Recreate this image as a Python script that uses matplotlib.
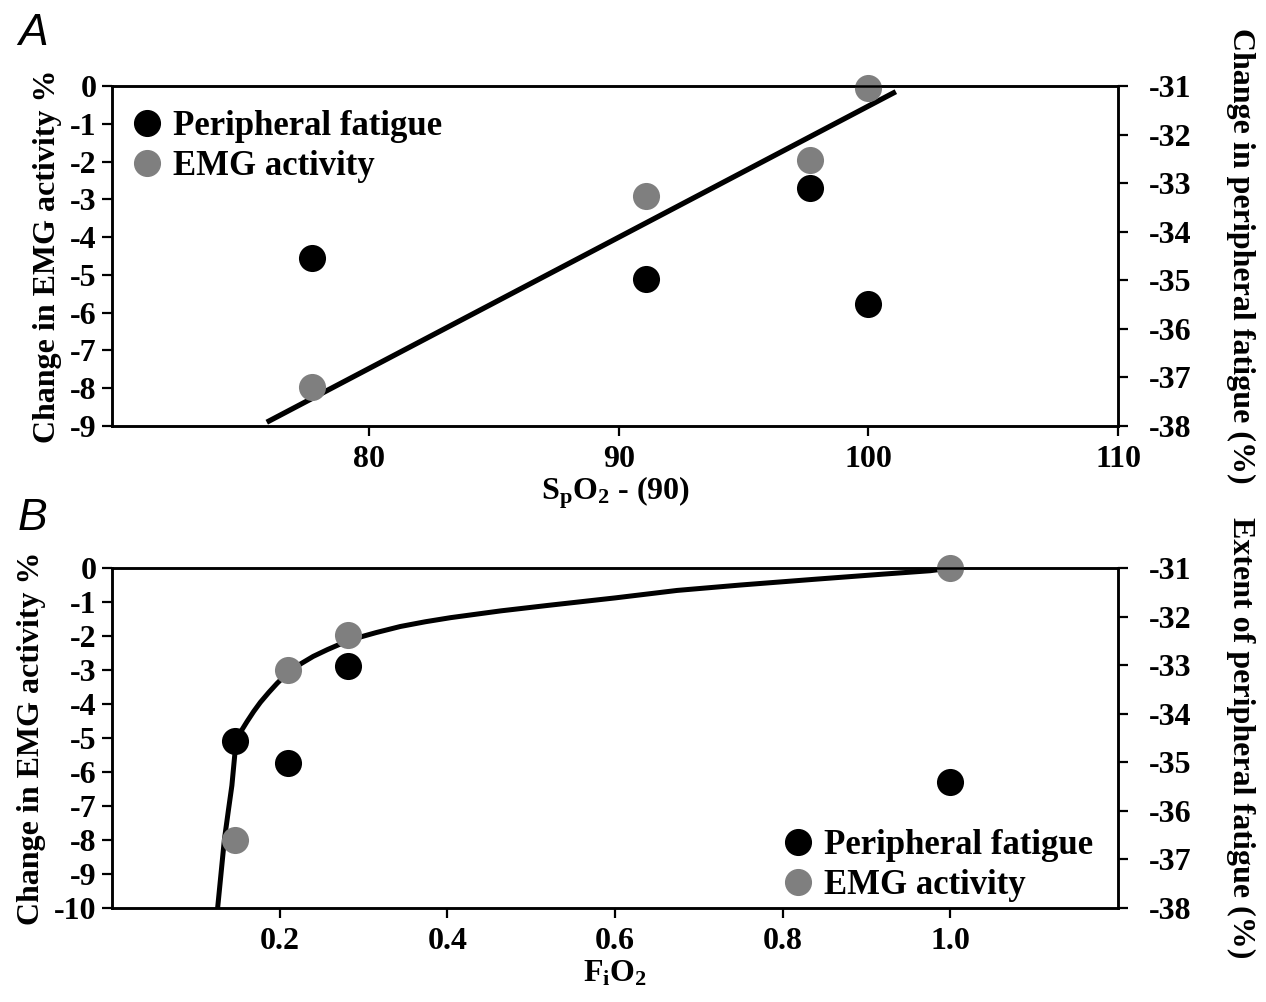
import numpy as np
import matplotlib
matplotlib.use('Agg')
import matplotlib.pyplot as plt
from matplotlib.lines import Line2D

plt.rcParams['font.family'] = 'Liberation Serif'
plt.rcParams['font.weight'] = 'bold'
plt.rcParams['axes.unicode_minus'] = False
plt.rcParams['mathtext.fontset'] = 'custom'
plt.rcParams['mathtext.rm'] = 'Liberation Serif:bold'
plt.rcParams['mathtext.it'] = 'Liberation Serif:bold'
plt.rcParams['mathtext.bf'] = 'Liberation Serif:bold'

# panel A: SpO2
spo2 = [77.7, 91.1, 97.65, 100.0]
fatigue_a = [-34.54, -34.97, -33.10, -35.49]
emg_a = [-7.96, -2.91, -1.96, -0.05]
fit_a_x = [75.9, 101.1]
fit_a_y = [-8.9, -0.15]

# panel B: FiO2
fio2 = [0.147, 0.21, 0.281, 1.0]
fatigue_b = [-34.56, -35.01, -33.02, -35.41]
emg_b = [-8.0, -3.0, -1.97, 0.0]
fit_b_x = [0.126, 0.130, 0.134, 0.139, 0.143, 0.148, 0.154, 0.161, 0.169, 0.177, 0.187,
           0.197, 0.21, 0.225, 0.24, 0.257, 0.272, 0.289, 0.315, 0.344, 0.374, 0.404,
           0.464, 0.52, 0.6, 0.674, 0.75, 0.839, 0.92, 0.976, 0.995]
fit_b_y = [-10.0, -9.0, -8.0, -7.1, -6.4, -5.09, -4.8, -4.52, -4.22, -3.95, -3.66,
           -3.39, -3.08, -2.82, -2.6, -2.4, -2.24, -2.08, -1.9, -1.72, -1.58, -1.46,
           -1.26, -1.1, -0.88, -0.66, -0.5, -0.33, -0.18, -0.08, -0.02]

BLACK = '#000000'
GREY = '#7f7f7f'
MS = 19.5
TICK_FS = 23
LABEL_FS = 23
LEG_FS = 25

W, H = 1266, 1002
fig = plt.figure(figsize=(W / 100, H / 100), dpi=100)


def style_axes(ax, twin):
    for sp in ax.spines.values():
        sp.set_linewidth(1.8)
    for sp in twin.spines.values():
        sp.set_linewidth(1.8)
    ax.tick_params(axis='y', direction='out', length=7, width=1.6, labelsize=TICK_FS, pad=4)
    ax.tick_params(axis='x', direction='out', length=7, width=1.6, labelsize=TICK_FS, pad=7)
    twin.tick_params(direction='out', length=7, width=1.6, labelsize=TICK_FS, pad=15)
    for lab in ax.get_xticklabels() + ax.get_yticklabels() + twin.get_yticklabels():
        lab.set_fontweight('bold')


def legend(ax, loc, anchor):
    handles = [Line2D([], [], marker='o', ls='none', color=BLACK, markersize=MS - 1),
               Line2D([], [], marker='o', ls='none', color=GREY, markersize=MS - 1)]
    ax.legend(handles, ['Peripheral fatigue', 'EMG activity'], loc=loc, bbox_to_anchor=anchor,
              frameon=False, prop={'family': 'Liberation Serif', 'weight': 'bold', 'size': LEG_FS},
              handletextpad=0.25, labelspacing=0.2, handlelength=1.0, borderaxespad=0)


# ---- panel A
axA = fig.add_axes([112 / W, 1 - 426 / H, 1006 / W, 340 / H])
axA.plot(fit_a_x, fit_a_y, color=BLACK, lw=3.8, solid_capstyle='butt', zorder=2)
axA.plot(spo2, emg_a, 'o', color=GREY, markersize=MS, mew=0, zorder=3, clip_on=False)
axA.set_xlim(69.7, 110)
axA.set_ylim(-9, 0)
axA.set_xticks([80, 90, 100, 110])
axA.set_yticks(np.arange(0, -10, -1))
axA.set_ylabel('Change in EMG activity %', fontsize=LABEL_FS, fontweight='bold', labelpad=6)
axA.set_xlabel(r'$\mathrm{S_pO_2}$ - (90)', fontsize=LABEL_FS, fontweight='bold', labelpad=0)
twA = axA.twinx()
twA.plot(spo2, fatigue_a, 'o', color=BLACK, markersize=MS, mew=0, zorder=3)
twA.set_ylim(-38, -31)
twA.set_yticks(np.arange(-31, -39, -1))
twA.set_ylabel('Change in peripheral fatigue (%)', fontsize=LABEL_FS, fontweight='bold',
               rotation=270, labelpad=46)
style_axes(axA, twA)
legend(twA, 'upper left', (0.004, 0.97))
fig.text(18 / W, 1 - 45 / H, 'A', fontsize=32, style='italic', family='Liberation Sans',
         fontweight='normal')

# ---- panel B
axB = fig.add_axes([112 / W, 1 - 908 / H, 1006 / W, 340 / H])
axB.plot(fit_b_x, fit_b_y, color=BLACK, lw=3.6, solid_capstyle='butt', zorder=2)
axB.plot(fio2, emg_b, 'o', color=GREY, markersize=MS, mew=0, zorder=3, clip_on=False)
axB.set_xlim(0, 1.2)
axB.set_ylim(-10, 0)
axB.set_xticks([0.2, 0.4, 0.6, 0.8, 1.0])
axB.set_xticklabels(['0.2', '0.4', '0.6', '0.8', '1.0'])
axB.set_yticks(np.arange(0, -11, -1))
axB.set_ylabel('Change in EMG activity %', fontsize=LABEL_FS, fontweight='bold', labelpad=6)
axB.set_xlabel(r'$\mathrm{F_iO_2}$', fontsize=LABEL_FS, fontweight='bold', labelpad=2)
twB = axB.twinx()
twB.plot(fio2, fatigue_b, 'o', color=BLACK, markersize=MS, mew=0, zorder=3)
twB.set_ylim(-38, -31)
twB.set_yticks(np.arange(-31, -39, -1))
twB.set_ylabel('Extent of peripheral fatigue (%)', fontsize=LABEL_FS, fontweight='bold',
               rotation=270, labelpad=46)
style_axes(axB, twB)
legend(twB, 'lower left', (0.651, -0.023))
fig.text(18 / W, 1 - 530 / H, 'B', fontsize=32, style='italic', family='Liberation Sans',
         fontweight='normal')

fig.savefig('out.png', dpi=100)
